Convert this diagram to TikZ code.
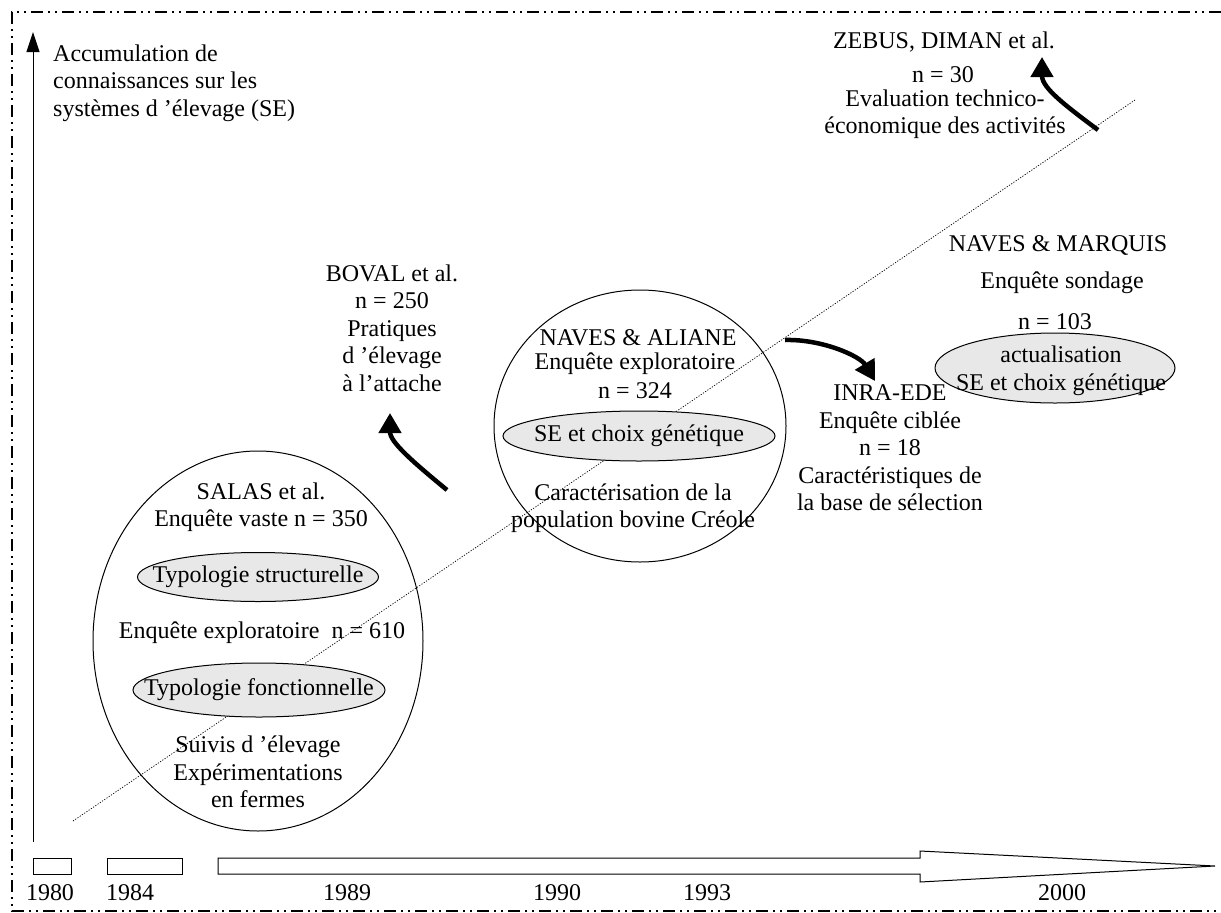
\documentclass[tikz,border=0pt]{standalone}
\usepackage{fontspec}
\setmainfont{Liberation Serif}
\usetikzlibrary{arrows.meta,shapes.geometric}
\definecolor{ovalgray}{RGB}{232,232,232}
\begin{document}
\begin{tikzpicture}[x=1pt,y=-1pt,
  txt/.style={font=\fontsize{24}{27.5}\selectfont, inner sep=0pt, align=center},
  oval/.style={draw, ellipse, inner sep=0pt, line width=1pt},
  grayoval/.style={oval, fill=ovalgray, font=\fontsize{24}{27.5}\selectfont},
  curvearrow/.style={line width=4.5pt, -{Triangle[length=20pt,width=22pt]}},
  yearbox/.style={draw, line width=1pt, minimum height=16pt, inner sep=0pt},
  border/.style={line width=1.2pt, dash pattern=on 12pt off 5pt on 2pt off 5pt on 2pt off 5pt},
  diag/.style={line width=0.7pt, dash pattern=on 1.2pt off 1.5pt}]
\useasboundingbox (0,0) rectangle (1221,913);

% frame
\draw[border] (1221,12) -- (12,12) -- (12,911) -- (1221,911);

% diagonal trend line
\coordinate (d1) at (73,821);
\coordinate (d2) at (1135,100);
\draw[diag] (d1) -- (d2);

% vertical axis
\coordinate (axb) at (33,842);
\coordinate (axt) at (33,32);
\draw[line width=1pt, -{Triangle[length=20pt,width=13pt]}] (axb) -- (axt);
\node[txt, align=left, anchor=west] (axlab) at (53,83)
  {Accumulation de\\connaissances sur les\\systèmes d ’élevage (SE)};

% timeline
\node[yearbox, minimum width=38pt] (y80) at (52,866) {};
\node[yearbox, minimum width=75pt] (y84) at (144.5,866) {};
\draw[line width=1pt] (218,858) -- (920,858) -- (920,851) -- (1215,866)
  -- (920,882) -- (920,874) -- (218,874) -- cycle;
\node[txt] (t1980) at (50,893) {1980};
\node[txt] (t1984) at (130,893) {1984};
\node[txt] (t1989) at (347,893) {1989};
\node[txt] (t1990) at (557,893) {1990};
\node[txt] (t1993) at (707,893) {1993};
\node[txt] (t2000) at (1062,893) {2000};

% SALAS
\node[oval, minimum width=330pt, minimum height=380pt] (salas) at (258,641) {};
\node[txt] (salastxt) at (261,507) {SALAS et al.\\Enquête vaste n = 350};
\node[grayoval, minimum width=241pt, minimum height=49pt] (typs) at (258,577)
  {\makebox[0pt]{Typologie structurelle}};
\node[txt] (expl610) at (262,633) {Enquête exploratoire\ \ n = 610};
\node[grayoval, minimum width=252pt, minimum height=54pt] (typf) at (259,690)
  {\makebox[0pt]{Typologie fonctionnelle}};
\node[txt] (suivis) at (258,772) {Suivis d ’élevage\\Expérimentations\\en fermes};

% BOVAL
\node[txt] (boval) at (392,328) {BOVAL et al.\\n = 250\\Pratiques\\d ’élevage\\à l’attache};
\coordinate (b0) at (447,490);
\coordinate (b1) at (390,413);
\draw[curvearrow] (b0) .. controls (413,462) and (390,442) .. (b1);

% NAVES & ALIANE
\node[oval, minimum width=292pt, minimum height=272pt] (aliane) at (640,426) {};
\node[txt] (alianet) at (638,338) {NAVES \& ALIANE};
\node[txt] (aliane2) at (635,364) {Enquête exploratoire};
\node[txt] (aliane3) at (635,391) {n = 324};
\node[grayoval, minimum width=272pt, minimum height=50pt] (segen) at (639,436)
  {\makebox[0pt]{SE et choix génétique}};
\node[txt] (caract) at (633,508) {Caractérisation de la\\population bovine Créole};

% arrow to INRA
\coordinate (i0) at (785,340);
\coordinate (i1) at (875,381);
\draw[curvearrow] (i0) .. controls (822,339) and (860,356) .. (i1);

% INRA-EDE
\node[txt] (inra) at (890,448) {INRA-EDE\\Enquête ciblée\\n = 18\\Caractéristiques de\\la base de sélection};

% NAVES & MARQUIS
\node[txt] (marq1) at (1058,245) {NAVES \& MARQUIS};
\node[txt] (marq2) at (1062,283) {Enquête sondage};
\node[txt] (marq3) at (1055,322) {n = 103};
\node[grayoval, minimum width=240pt, minimum height=70pt] (marqov) at (1055,368) {};
\node[txt] (marq4) at (1061,371) {actualisation\\SE et choix génétique};

% ZEBUS
\node[txt] (zeb1) at (944,42) {ZEBUS, DIMAN et al.};
\node[txt] (zeb2) at (943,75) {n = 30};
\node[txt] (zeb3) at (945,114) {Evaluation technico-\\économique des activités};
\coordinate (z0) at (1098,130);
\coordinate (z1) at (1042,57);
\draw[curvearrow] (z0) .. controls (1066,106) and (1042,88) .. (z1);
\end{tikzpicture}
\end{document}
